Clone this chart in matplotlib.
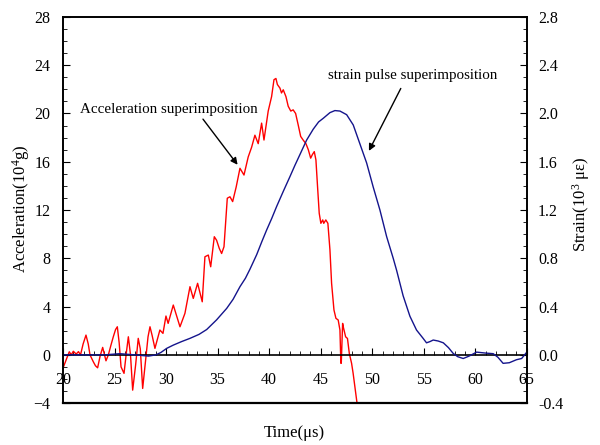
import numpy as np
import matplotlib.pyplot as plt
from matplotlib.ticker import MultipleLocator

plt.rcParams['font.family'] = 'Liberation Serif'
plt.rcParams['mathtext.fontset'] = 'custom'
plt.rcParams['mathtext.rm'] = 'Liberation Serif'
plt.rcParams['mathtext.it'] = 'Liberation Serif:italic'

# acceleration (10^4 g)
acc_t = [20.0, 20.36, 20.61, 20.8, 21.0, 21.28, 21.5, 21.7, 21.95, 22.23, 22.45, 22.62,
         22.94, 23.15, 23.36, 23.6, 23.85, 24.17, 24.4, 24.65, 24.88, 25.1, 25.27,
         25.45, 25.63, 25.92, 26.15, 26.34, 26.55, 26.76, 27.05, 27.3, 27.5,
         27.73, 28.05, 28.25, 28.44, 28.65, 28.92, 29.4, 29.7, 29.99, 30.2, 30.7,
         31.0, 31.35, 31.83, 32.32, 32.64, 33.06, 33.51, 33.77, 34.1, 34.33, 34.68,
         34.9, 35.16, 35.39, 35.62, 35.94, 36.2, 36.46, 36.8, 37.17, 37.56, 37.97,
         38.3, 38.62, 38.94, 39.27, 39.5, 39.91, 40.24, 40.47, 40.66, 40.8, 41.05,
         41.2, 41.37, 41.63, 41.85, 42.1, 42.33, 42.57, 42.82, 43.06, 43.3, 43.57,
         43.8, 44.03, 44.2, 44.38, 44.54, 44.7, 44.86, 45.02, 45.2, 45.3, 45.5,
         45.7, 45.9, 46.06, 46.29, 46.48, 46.7, 46.87, 46.96, 47.0, 47.13, 47.2,
         47.42, 47.6, 47.78, 48.0, 48.15, 48.49, 48.7]
acc_v = [-1.1, -0.29, 0.26, 0.0, 0.3, 0.07, 0.27, 0.0, 0.9, 1.64, 0.9, 0.0,
         -0.57, -0.9, -1.07, -0.1, 0.62, -0.49, 0.0, 0.8, 1.5, 2.1, 2.33,
         1.0, -0.99, -1.53, 0.2, 1.5, 0.0, -2.92, -0.8, 1.37, 0.5,
         -2.78, -0.15, 1.5, 2.33, 1.6, 0.54, 2.06, 1.78, 3.22, 2.61, 4.13,
         3.3, 2.33, 3.44, 5.65, 4.68, 5.93, 4.4, 8.13, 8.27, 7.3, 9.79,
         9.5, 8.83, 8.4, 8.96, 12.98, 13.1, 12.7, 13.9, 15.46, 14.9, 16.4,
         17.2, 18.2, 17.5, 19.2, 17.8, 20.2, 21.4, 22.8, 22.9, 22.4, 22.1,
         21.7, 21.96, 21.4, 20.6, 20.2, 20.3, 20.0, 19.05, 18.1, 17.8, 17.5,
         17.0, 16.3, 16.6, 16.84, 16.15, 13.9, 11.73, 10.9, 11.18, 10.9, 11.18,
         10.9, 8.7, 5.93, 3.72, 3.03, 2.89, 2.06, -0.7, -0.7, 2.61, 2.3,
         1.5, 1.36, 0.12, -0.7, -1.53, -3.75, -5.0]

# strain (10^3 microstrain)
str_t = [20.0, 22.0, 24.0, 25.5, 27.0, 28.3, 29.0, 29.5, 30.06, 30.7, 31.5, 32.32,
         33.2, 33.94, 34.9, 35.88, 36.5, 37.17, 37.7, 38.14, 38.79, 39.3, 39.76,
         40.25, 40.73, 41.4, 42.02, 42.5, 42.99, 43.64, 44.28, 44.8, 45.25, 45.9,
         46.38, 46.87, 47.52, 48.16, 48.8, 49.46, 50.1, 50.75, 51.4, 52.04, 52.37,
         53.0, 53.66, 54.3, 54.94, 55.27, 55.6, 55.92, 56.4, 56.9, 57.4, 57.86,
         58.3, 58.83, 59.4, 60.13, 61.0, 61.74, 62.2, 62.7, 63.3, 64.0, 64.5, 64.97]
str_v = [0.0, 0.0, 0.0, 0.01, 0.0, -0.01, 0.0, 0.02, 0.054, 0.081, 0.11, 0.137,
         0.17, 0.21, 0.29, 0.385, 0.46, 0.565, 0.635, 0.71, 0.83, 0.94, 1.035,
         1.13, 1.23, 1.36, 1.477, 1.57, 1.66, 1.78, 1.87, 1.93, 1.96, 2.007,
         2.024, 2.02, 1.99, 1.905, 1.75, 1.59, 1.39, 1.2, 0.98, 0.80, 0.70,
         0.49, 0.32, 0.206, 0.137, 0.10, 0.11, 0.123, 0.115, 0.10, 0.06, 0.012,
         -0.015, -0.03, -0.01, 0.023, 0.015, 0.01, -0.02, -0.07, -0.065, -0.04, -0.03, 0.02]

fig = plt.figure(figsize=(6, 4.45), dpi=100)
ax = fig.add_axes([0.105, 0.094, 0.773, 0.868])
ax2 = ax.twinx()

ax.plot(acc_t, acc_v, color='#ff0000', lw=1.0)
ax2.plot(str_t, str_v, color='#14148c', lw=1.0)

ax.set_xlim(20, 65)
ax.set_ylim(-4, 28)
ax2.set_ylim(-0.4, 2.8)

ax.spines['bottom'].set_position(('data', 0))
ax.axhline(-4, color='black', lw=1.6, clip_on=False, zorder=5)
for s in ax.spines.values():
    s.set_linewidth(1.2)
for s in ax2.spines.values():
    s.set_linewidth(1.2)
ax2.spines['bottom'].set_visible(False)

ax.xaxis.set_major_locator(MultipleLocator(5))
ax.xaxis.set_minor_locator(MultipleLocator(1))
ax.yaxis.set_major_locator(MultipleLocator(4))
ax.yaxis.set_minor_locator(MultipleLocator(1))
ax2.yaxis.set_major_locator(MultipleLocator(0.4))
ax2.yaxis.set_minor_locator(MultipleLocator(0.1))
ax2.yaxis.set_major_formatter(plt.FormatStrFormatter('%.1f'))

ax.tick_params(axis='x', which='both', direction='in', top=False, labelsize=11.5, pad=12)
ax.tick_params(axis='x', which='major', length=5)
ax.tick_params(axis='x', which='minor', length=3)
ax.tick_params(axis='y', which='both', direction='in', right=False, labelsize=11.5, pad=9)
ax.tick_params(axis='y', which='major', length=5)
ax.tick_params(axis='y', which='minor', length=3)
ax2.tick_params(axis='y', which='both', direction='in', labelsize=11.5, pad=8)
ax2.tick_params(axis='y', which='major', length=5)
ax2.tick_params(axis='y', which='minor', length=3)

fig.text(0.49, 0.027, u'Time(\u03bcs)', ha='center', va='center', fontsize=12)
fig.text(0.035, 0.53, r'Acceleration(10$^4$g)', rotation=90, ha='center', va='center', fontsize=12)
fig.text(0.968, 0.54, u'Strain(10$^3$ \u03bc\u03b5)', rotation=90, ha='center', va='center', fontsize=12)

ax.annotate('Acceleration superimposition', xy=(36.94, 15.75), xytext=(21.65, 20.3),
            fontsize=10.8, va='center', ha='left',
            arrowprops=dict(arrowstyle='-|>', color='black', lw=1, shrinkA=0, shrinkB=0,
                            relpos=(0.68, 0.0), mutation_scale=10))
ax.annotate('strain pulse superimposition', xy=(49.68, 16.9), xytext=(45.7, 23.15),
            fontsize=10.8, va='center', ha='left',
            arrowprops=dict(arrowstyle='-|>', color='black', lw=1, shrinkA=3, shrinkB=0,
                            relpos=(0.45, 0.0), mutation_scale=10))

fig.savefig('out.png', dpi=100)
